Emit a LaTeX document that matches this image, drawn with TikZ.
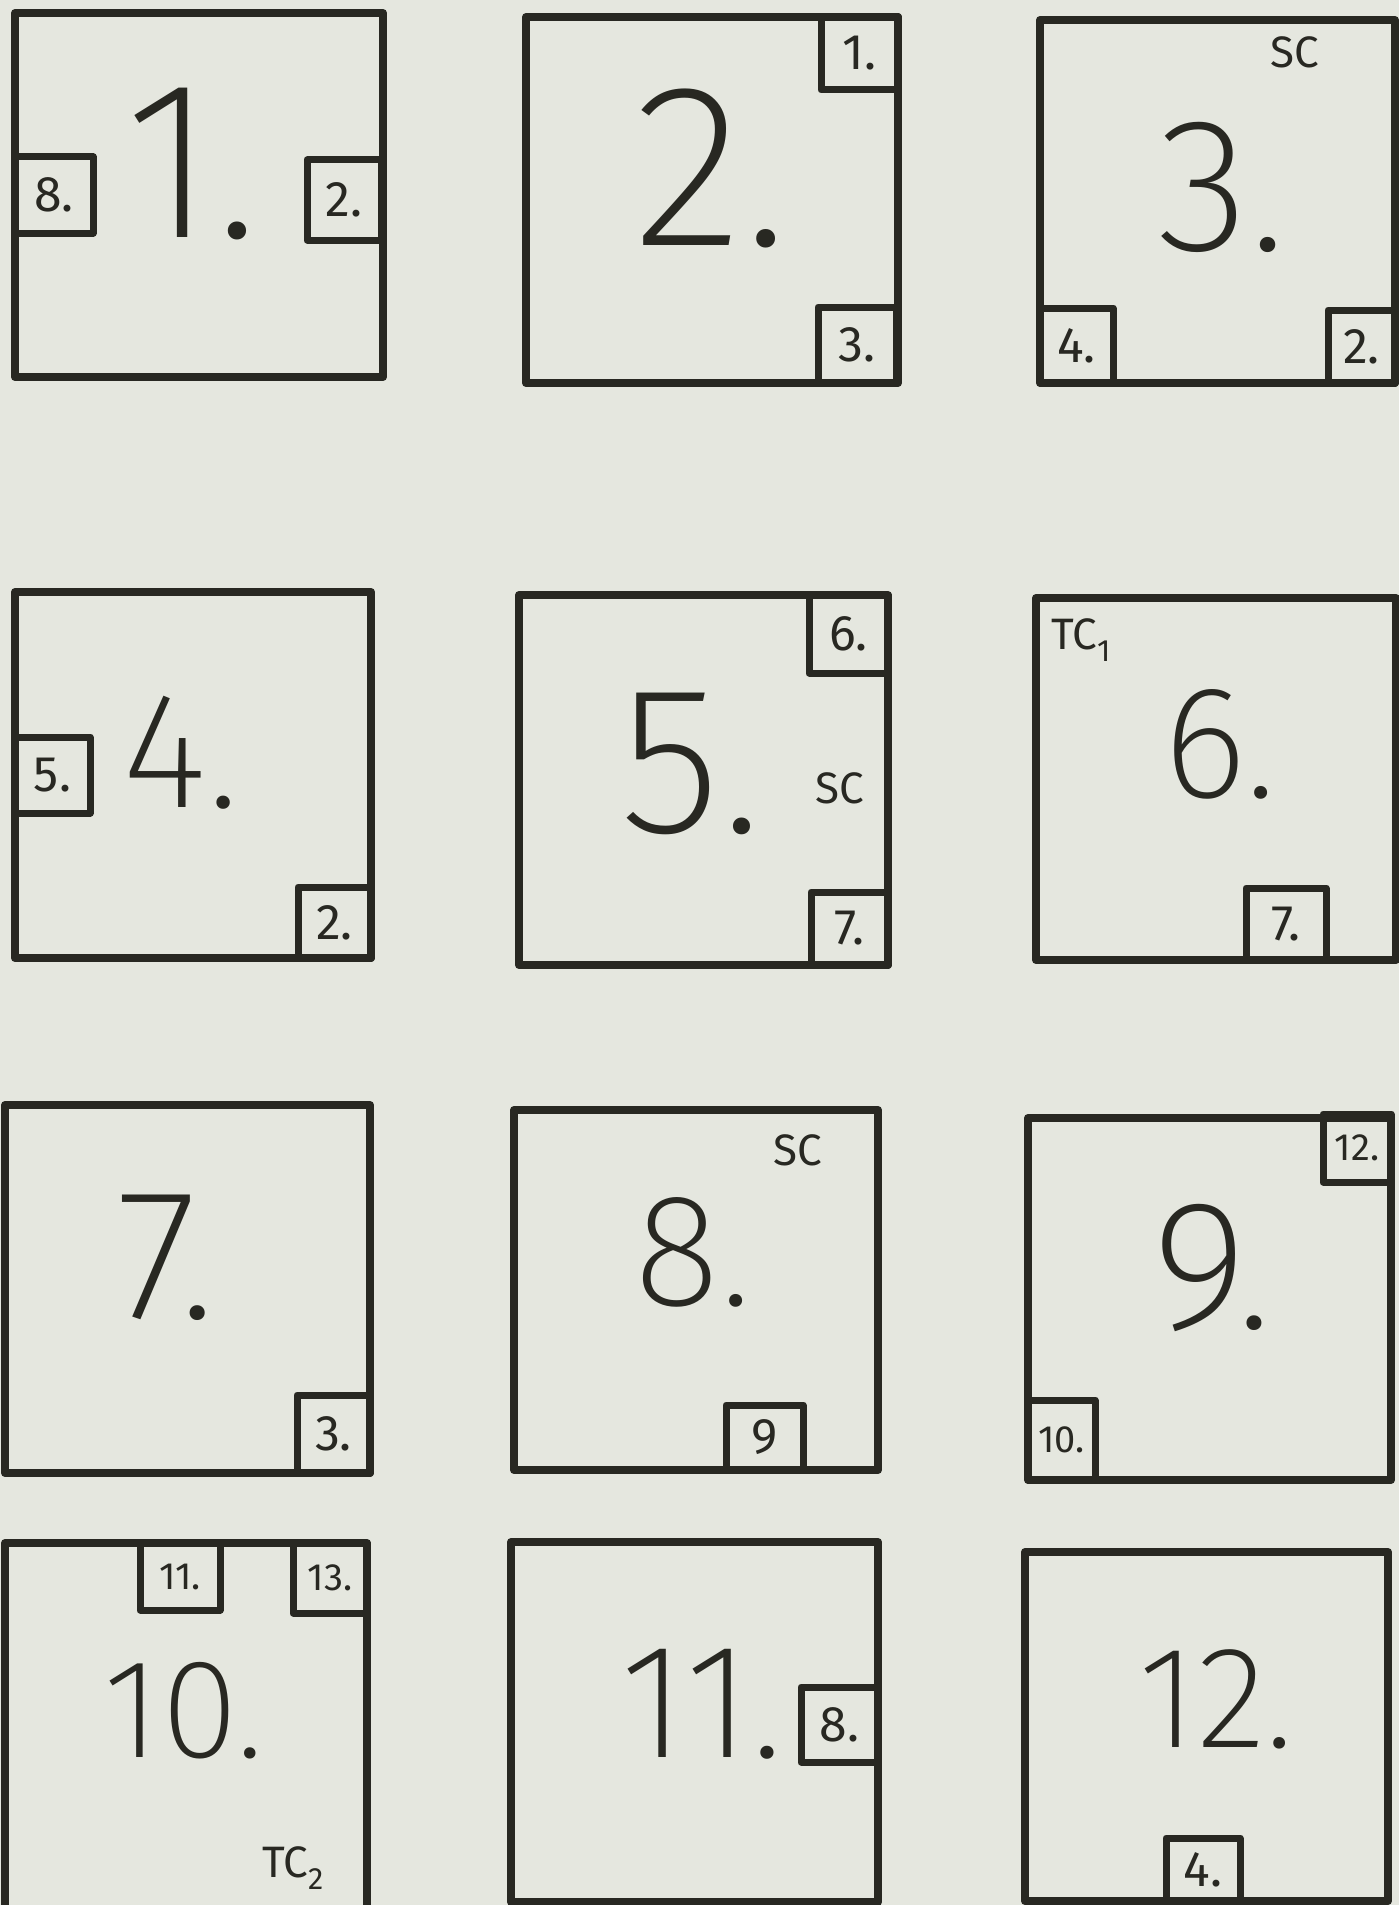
\documentclass[tikz,border=0pt]{standalone}
\usepackage{fontspec}
\newfontfamily\handthin{Fira Sans ExtraLight}
\newfontfamily\handlab{Fira Sans}
\definecolor{paper}{RGB}{229,231,223}
\definecolor{ink}{RGB}{40,40,34}
\newcommand\inbox[6]{%
  \draw[inset] (#1,#2) rectangle (#3,#4);
  \node[lab] (#5) at ({(#1+#3)/2},{(#2+#4)/2}) {#6};}
\newcommand\inboxs[6]{%
  \draw[inset] (#1,#2) rectangle (#3,#4);
  \node[lab, labsmall] (#5) at ({(#1+#3)/2},{(#2+#4)/2}) {#6};}
\newcommand\bignum[5]{%
  \node[big, font=\handthin\fontsize{#4}{#4}\selectfont] (#1) at (#2,#3) {#5};}
\begin{document}
\begin{tikzpicture}[x=1pt,y=-1pt,
  outer/.style={draw=ink, line width=8pt, line join=round},
  inset/.style={draw=ink, line width=7pt, line join=round},
  big/.style={text=ink, inner sep=0pt, anchor=base},
  lab/.style={text=ink, inner sep=0pt, font=\handlab\fontsize{50}{50}\selectfont},
  labsmall/.style={font=\handlab\fontsize{38}{38}\selectfont},
  note/.style={text=ink, inner sep=0pt, font=\handlab\fontsize{44}{44}\selectfont}]
\fill[paper] (0,0) rectangle (1399,1905);
\useasboundingbox (0,0) rectangle (1399,1905);

% ---------- row 1 ----------
\draw[outer] (15,13) rectangle (383,377);
\inbox{15}{157}{93}{233}{s1a}{8.}
\inbox{307}{160}{381}{240}{s1b}{2.}
\bignum{n1}{192}{237}{225}{1.}

\draw[outer] (526,17) rectangle (898,383);
\inbox{821}{17}{898}{90}{s2a}{1.}
\inbox{818}{307}{896}{383}{s2b}{3.}
\bignum{n2}{711}{245}{232}{2.}

\draw[outer] (1040,20) rectangle (1395,383);
\node[note] (sc3) at (1295,52) {SC};
\inbox{1040}{308}{1113}{383}{s3a}{4.}
\inbox{1328}{310}{1395}{383}{s3b}{2.}
\bignum{n3}{1222}{250}{190}{3.}

% ---------- row 2 ----------
\draw[outer] (15,592) rectangle (371,958);
\inbox{15}{737}{90}{813}{s4a}{5.}
\inbox{298}{887}{371}{958}{s4b}{2.}
\bignum{n4}{181}{807}{165}{4.}

\draw[outer] (519,595) rectangle (888,965);
\inbox{809}{595}{888}{673}{s5a}{6.}
\node[note] (sc5) at (840,788) {SC};
\inbox{811}{892}{888}{965}{s5b}{7.}
\bignum{n5}{691}{832}{210}{5.}

\draw[outer] (1036,598) rectangle (1396,960);
\node[note, anchor=north west] (tc1) at (1051,618) {TC\textsubscript{1}};
\inbox{1246}{888}{1326}{960}{s6a}{7.}
\bignum{n6}{1220}{797}{160}{6.}

% ---------- row 3 ----------
\draw[outer] (5,1105) rectangle (370,1473);
\inbox{297}{1395}{370}{1473}{s7a}{3.}
\bignum{n7}{166}{1318}{186}{7.}

\draw[outer] (514,1110) rectangle (878,1470);
\node[note] (sc8) at (798,1150) {SC};
\inbox{726}{1405}{803}{1470}{s8a}{9}
\bignum{n8}{693}{1305}{160}{8.}

\draw[outer] (1028,1118) rectangle (1391,1480);
\inboxs{1323}{1114}{1391}{1182}{s9a}{12.}
\inboxs{1028}{1400}{1095}{1480}{s9b}{10.}
\bignum{n9}{1212}{1328}{184}{9.}

% ---------- row 4 ----------
\draw[outer] (5,1543) rectangle (367,1912);
\inboxs{140}{1543}{220}{1610}{s10a}{11.}
\inboxs{293}{1543}{367}{1613}{s10b}{13.}
\node[note] (tc2) at (293,1868) {TC\textsubscript{2}};
\bignum{n10}{184}{1757}{141}{10.}

\draw[outer] (511,1542) rectangle (878,1902);
\inbox{801}{1687}{878}{1762}{s11a}{8.}
\bignum{n11}{702}{1757}{163}{11.}

\draw[outer] (1025,1552) rectangle (1388,1901);
\inbox{1166}{1838}{1240}{1901}{s12a}{4.}
\bignum{n12}{1216}{1747}{145}{12.}
\end{tikzpicture}
\end{document}
